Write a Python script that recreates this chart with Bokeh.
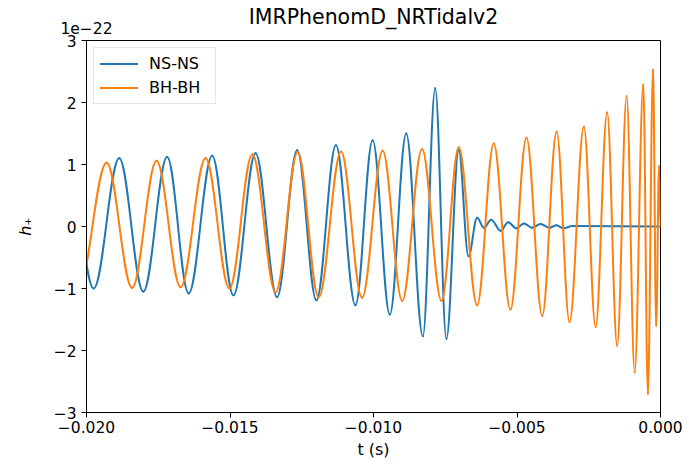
import numpy as np
from bokeh.plotting import figure
from bokeh.models import (Range1d, FixedTicker, CustomJSTickFormatter, LinearAxis,
                          Legend, LegendItem, ColumnDataSource)
from bokeh.embed import file_html
from bokeh.resources import INLINE

# ---- data (extrema of each waveform, t in s, h in 1e-22) ----
ns_t = [-0.02063, -0.01975, -0.01886, -0.01802, -0.01719, -0.01644, -0.01562, -0.01488,
        -0.01411, -0.01336, -0.01266, -0.01199, -0.01131, -0.01063, -0.01003, -0.00943,
        -0.00886, -0.00828, -0.00785, -0.00746, -0.00703, -0.00669, -0.00639, -0.00615,
        -0.00590, -0.00557, -0.00531, -0.00502, -0.00476, -0.00448, -0.00418, -0.00387,
        -0.00362, -0.00338, -0.00307, 0.0]
ns_h = [1.05, -1.00, 1.10, -1.05, 1.12, -1.08, 1.14, -1.11,
        1.18, -1.14, 1.23, -1.19, 1.31, -1.27, 1.39, -1.42,
        1.50, -1.77, 2.23, -1.81, 1.23, -0.48, 0.14, -0.02,
        0.11, -0.07, 0.07, -0.03, 0.05, -0.02, 0.04, -0.02,
        0.02, -0.03, 0.01, 0.0]

bh_t = [-0.02028, -0.01930, -0.01841, -0.01756, -0.01672, -0.01585, -0.01502, -0.01422,
        -0.01341, -0.01264, -0.01191, -0.01113, -0.01040, -0.00968, -0.00900, -0.00831,
        -0.00763, -0.00703, -0.00639, -0.00581, -0.00523, -0.00467, -0.00412, -0.00362,
        -0.00317, -0.00267, -0.00226, -0.00186, -0.00151, -0.00118, -0.00090, -0.00060,
        -0.00044, -0.00026, -0.00015, -0.00005, 0.0]
bh_h = [-1.00, 1.03, -0.99, 1.06, -0.98, 1.10, -1.00, 1.16,
        -1.06, 1.20, -1.14, 1.21, -1.15, 1.22, -1.20, 1.25,
        -1.20, 1.28, -1.27, 1.34, -1.34, 1.43, -1.44, 1.53,
        -1.54, 1.61, -1.62, 1.84, -1.92, 2.10, -2.35, 2.29,
        -2.70, 2.53, -1.60, 0.97, 0.0]

x_ticks = [-0.020, -0.015, -0.010, -0.005, 0.0]
y_ticks = [-3, -2, -1, 0, 1, 2, 3]
labels = ["NS-NS", "BH-BH"]
colors = ["#1f77b4", "#ff7f0e"]
title_text = "IMRPhenomD_NRTidalv2"
offset_text = "1e\u221222"

K = 0.3642  # bezier handle fraction for a smooth half-wave between extrema


def seg_source(t, h):
    t = np.asarray(t, dtype=float)
    h = np.asarray(h, dtype=float)
    dt = np.diff(t)
    return ColumnDataSource(dict(x0=t[:-1], y0=h[:-1], x1=t[1:], y1=h[1:],
                                 cx0=t[:-1] + K * dt, cy0=h[:-1],
                                 cx1=t[1:] - K * dt, cy1=h[1:]))


FONT = "DejaVu Sans"

p = figure(width=689, height=469, output_backend="svg", toolbar_location=None,
           x_range=Range1d(-0.02, 0.0), y_range=Range1d(-3, 3),
           min_border_left=86, min_border_right=29, min_border_top=40,
           min_border_bottom=57)

p.xgrid.visible = False
p.ygrid.visible = False
p.outline_line_color = "black"
p.outline_line_width = 1
p.background_fill_color = "white"
p.border_fill_color = "white"

p.xaxis.ticker = FixedTicker(ticks=x_ticks, minor_ticks=[])
p.yaxis.ticker = FixedTicker(ticks=y_ticks, minor_ticks=[])
p.xaxis.formatter = CustomJSTickFormatter(
    code="return (tick < -1e-9 ? '\u2212' : '') + Math.abs(tick).toFixed(3);")
p.yaxis.formatter = CustomJSTickFormatter(
    code="return (tick < 0 ? '\u2212' : '') + Math.abs(tick).toFixed(0);")

for ax in (p.xaxis[0], p.yaxis[0]):
    ax.axis_line_color = "black"
    ax.major_tick_line_color = "black"
    ax.major_tick_out = 5
    ax.major_tick_in = 0
    ax.minor_tick_out = 0
    ax.minor_tick_in = 0
    ax.major_label_text_font = FONT
    ax.major_label_text_font_size = "15.5px"
    ax.major_label_text_color = "black"
    ax.axis_label_text_font = FONT
    ax.axis_label_text_font_size = "16px"
    ax.axis_label_text_color = "black"

p.xaxis.axis_label = "t (s)"
p.xaxis.axis_label_text_font_style = "normal"
p.xaxis.major_label_standoff = 3
p.xaxis.axis_label_standoff = 4
p.yaxis.axis_label = "h\u208A"
p.yaxis.axis_label_text_font_style = "italic"
p.yaxis.major_label_standoff = 5
p.yaxis.axis_label_standoff = 16

# top axis carries the offset text (at the left corner) and the chart title
top = LinearAxis(
    ticker=FixedTicker(ticks=[x_ticks[0]], minor_ticks=[]),
    formatter=CustomJSTickFormatter(code="return '%s';" % offset_text),
    axis_line_color=None, major_tick_line_color=None, minor_tick_line_color=None,
    major_tick_out=0, major_tick_in=0, minor_tick_out=0, minor_tick_in=0,
    major_label_standoff=7, major_label_text_align="left",
    major_label_text_font=FONT, major_label_text_font_size="15.5px",
    major_label_text_color="black",
    axis_label=title_text, axis_label_standoff=-10,
    axis_label_text_font=FONT, axis_label_text_font_size="20.5px",
    axis_label_text_font_style="normal", axis_label_text_color="black")
p.add_layout(top, "above")

# waveforms: smooth bezier half-waves between the read extrema
rends = []
for t, h, c in ((ns_t, ns_h, colors[0]), (bh_t, bh_h, colors[1])):
    r = p.bezier(x0="x0", y0="y0", x1="x1", y1="y1", cx0="cx0", cy0="cy0",
                 cx1="cx1", cy1="cy1", source=seg_source(t, h),
                 line_color=c, line_width=2, line_cap="round")
    rends.append(r)

legend = Legend(items=[LegendItem(label=labels[0], renderers=[rends[0]]),
                       LegendItem(label=labels[1], renderers=[rends[1]])],
                location="top_left", margin=7, padding=6, spacing=5,
                glyph_width=38, glyph_height=17, label_standoff=11,
                label_width=60,
                label_text_font=FONT, label_text_font_size="16px",
                label_text_color="black",
                border_line_color="#cccccc", border_line_width=1,
                background_fill_color="white", background_fill_alpha=0.8)
p.add_layout(legend)

open("out.html", "w").write(file_html(p, INLINE, title=title_text))
